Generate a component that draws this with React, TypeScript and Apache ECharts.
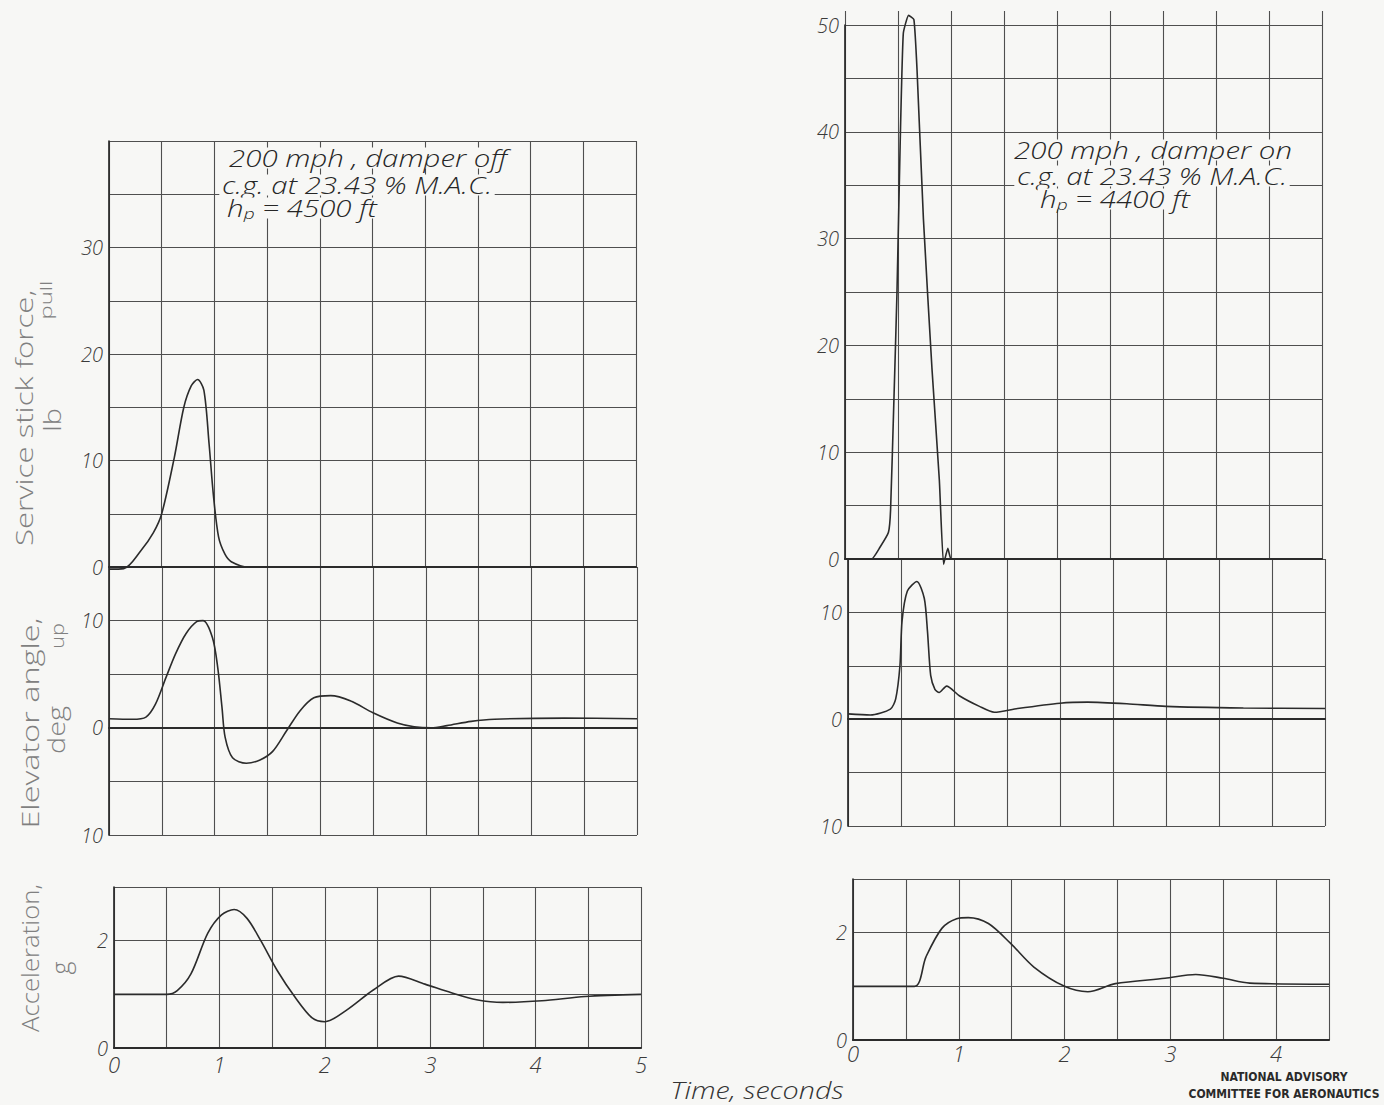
import React, { useEffect, useRef } from "react";
import * as echarts from "echarts";

// ---------- data ----------
// Left (damper off) : service stick force, lb
const lStickT = [0, 0.14, 0.3, 0.42, 0.5, 0.62, 0.71, 0.78, 0.84, 0.9, 0.95, 0.99, 1.04, 1.1, 1.16, 1.32, 1.5];
const lStickF = [-0.2, -0.15, 1.5, 3.2, 5.0, 10.3, 15.0, 17.0, 17.6, 16.6, 11.5, 6.8, 2.8, 1.2, 0.5, 0.0, 0.0];
// Left : elevator angle, deg
const lElevT = [0, 0.22, 0.35, 0.44, 0.54, 0.63, 0.73, 0.83, 0.89, 0.98, 1.03, 1.07, 1.1, 1.17, 1.3, 1.43, 1.55, 1.68, 1.81, 1.94, 2.1, 2.29, 2.5, 2.73, 2.89, 3.05, 3.2, 3.43, 3.65, 4.31, 5.0];
const lElevA = [0.85, 0.8, 1.0, 2.2, 4.7, 6.9, 8.8, 9.9, 10.0, 8.4, 5.6, 1.9, -0.9, -2.8, -3.3, -3.0, -2.2, -0.3, 1.6, 2.8, 3.0, 2.5, 1.4, 0.45, 0.1, 0.0, 0.2, 0.6, 0.8, 0.9, 0.85];
// Left : normal acceleration, g
const lAccT = [0, 0.5, 0.6, 0.73, 0.89, 1.02, 1.14, 1.26, 1.39, 1.55, 1.72, 1.88, 2.0, 2.21, 2.46, 2.7, 2.95, 3.2, 3.44, 3.69, 4.06, 4.47, 5.0];
const lAccG = [1.0, 1.0, 1.07, 1.38, 2.14, 2.48, 2.58, 2.42, 2.01, 1.44, 0.94, 0.56, 0.49, 0.71, 1.08, 1.34, 1.19, 1.03, 0.9, 0.85, 0.88, 0.96, 1.0];

// Right (damper on) : service stick force, lb
const rStickT = [0, 0.25, 0.33, 0.41, 0.43, 0.46, 0.49, 0.52, 0.55, 0.6, 0.65, 0.68, 0.74, 0.82, 0.89, 0.93, 0.97, 1.0, 1.06];
const rStickF = [0, 0, 1.1, 2.5, 4.6, 14.4, 24.8, 38.7, 49.2, 50.9, 50.5, 45.7, 31.8, 17.9, 7.4, -0.5, 1.0, 0, 0];
// Right : elevator angle, deg
const rElevT = [0, 0.21, 0.4, 0.45, 0.49, 0.51, 0.56, 0.65, 0.72, 0.75, 0.78, 0.82, 0.86, 0.93, 1.05, 1.24, 1.38, 1.6, 2.0, 2.26, 2.63, 3.0, 3.73, 4.5];
const rElevA = [0.5, 0.4, 0.95, 1.9, 5.0, 9.2, 12.0, 12.9, 11.3, 8.2, 4.1, 2.8, 2.5, 3.1, 2.2, 1.2, 0.65, 1.0, 1.5, 1.6, 1.45, 1.2, 1.05, 1.0];
// Right : normal acceleration, g
const rAccT = [0, 0.58, 0.69, 0.84, 0.98, 1.09, 1.28, 1.49, 1.71, 2.0, 2.22, 2.48, 2.95, 3.24, 3.5, 3.75, 4.5];
const rAccG = [1.0, 1.0, 1.55, 2.08, 2.26, 2.28, 2.17, 1.8, 1.36, 1.0, 0.9, 1.05, 1.15, 1.22, 1.15, 1.06, 1.04];

const timeMaxLeft = 5;
const timeMaxRight = 4.5;

// ---------- styles ----------
const BG = "#f7f7f5";
const INK = "#2b2b2b";
const GRIDC = "#4f4f4f";
const HAND = '"Open Sans", "DejaVu Sans", sans-serif';

const zip = (a: number[], b: number[]) => a.map((v, i) => [v, b[i]]);

const tickFont = {
  fontFamily: HAND,
  fontStyle: "italic" as const,
  fontWeight: 300 as any,
  fontSize: 20,
  color: "#3a3a3a",
};

function xAxisFor(grid: number, max: number, labels: boolean, axisLine: boolean, margin = 4) {
  return {
    type: "value",
    gridIndex: grid,
    min: 0,
    max,
    interval: 0.5,
    axisLine: { show: axisLine, onZero: true, lineStyle: { color: INK, width: 2.2 } },
    axisTick: { show: false },
    axisLabel: labels
      ? {
          show: true,
          margin,
          formatter: (v: number) => (Math.abs(v - Math.round(v)) < 1e-6 ? String(Math.round(v)) : ""),
          ...tickFont,
          fontSize: 22,
        }
      : { show: false },
    splitLine: { show: true, lineStyle: { color: GRIDC, width: 1.1 } },
  };
}

function yAxisFor(grid: number, min: number, max: number, interval: number, fmt: (v: number) => string) {
  return {
    type: "value",
    gridIndex: grid,
    min,
    max,
    interval,
    axisLine: { show: true, lineStyle: { color: INK, width: 1.7 } },
    axisTick: { show: false },
    axisLabel: { show: true, margin: 6, formatter: fmt, ...tickFont },
    splitLine: { show: true, lineStyle: { color: GRIDC, width: 1.1 } },
  };
}

function curve(xi: number, t: number[], v: number[], smooth = 0.3) {
  return {
    type: "line",
    xAxisIndex: xi,
    yAxisIndex: xi,
    data: zip(t, v),
    showSymbol: false,
    smooth,
    clip: false,
    lineStyle: { color: INK, width: 1.6 },
    silent: true,
  };
}

function vText(x: number, y: number, text: string, size: number, scaleX = 1, color = "#808080") {
  return {
    type: "text",
    x,
    y,
    rotation: Math.PI / 2,
    scaleX,
    style: {
      text,
      fill: color,
      fontFamily: HAND,
      fontSize: size,
      fontWeight: 300,
      textAlign: "center",
      textVerticalAlign: "middle",
      align: "center",
      verticalAlign: "middle",
    },
  };
}

function note(x: number, y: number, text: string, rich?: any) {
  return {
    type: "text",
    x,
    y,
    scaleX: 1.28,
    z: 50,
    style: {
      text,
      fill: "#262626",
      fontFamily: HAND,
      fontStyle: "italic",
      fontWeight: 300,
      fontSize: 23,
      lineHeight: 21,
      textAlign: "center",
      textVerticalAlign: "middle",
      align: "center",
      verticalAlign: "middle",
      backgroundColor: BG,
      padding: [0, 2, 0, 2],
      rich,
    },
  };
}

const hpRich = {
  n: { fontFamily: HAND, fontStyle: "italic", fontWeight: 300, fontSize: 23, lineHeight: 21, fill: "#262626", color: "#262626" },
  s: { fontFamily: HAND, fontStyle: "italic", fontWeight: 300, fontSize: 15, lineHeight: 21, fill: "#262626", color: "#262626", padding: [10, 0, 0, 0] },
};

export default function App() {
  const ref = useRef<HTMLDivElement>(null);

  useEffect(() => {
    document.body.style.margin = "0";
    document.body.style.background = BG;
    if (!ref.current) return;
    const chart = echarts.init(ref.current, undefined, { renderer: "svg" });

    const stickFmtL = (v: number) => (v % 10 === 0 && v < 40 ? String(v) : "");
    const stickFmtR = (v: number) => (v % 10 === 0 ? String(v) : "");
    const elevFmt = (v: number) => (v % 10 === 0 ? String(Math.abs(v)) : "");
    const accFmt = (v: number) => (v === 0 || v === 2 ? String(v) : "");

    const naca = (y: number, text: string) => ({
      type: "text",
      x: 1284,
      y,
      style: {
        text,
        fill: "#2a2a2a",
        fontFamily: '"Liberation Sans Narrow", "DejaVu Sans Condensed", sans-serif',
        fontWeight: "bold",
        fontSize: 12,
        textAlign: "center",
        textVerticalAlign: "middle",
        align: "center",
        verticalAlign: "middle",
      },
    });

    const option: any = {
      animation: false,
      backgroundColor: BG,
      grid: [
        { left: 109, top: 141, width: 527, height: 426 }, // 0 left stick
        { left: 109, top: 567, width: 528, height: 268 }, // 1 left elevator
        { left: 114, top: 887, width: 527, height: 161 }, // 2 left accel
        { left: 845, top: 11, width: 477, height: 14 }, // 3 right top stubs
        { left: 845, top: 25, width: 477, height: 534 }, // 4 right stick
        { left: 848, top: 559, width: 477, height: 267 }, // 5 right elevator
        { left: 853, top: 879, width: 476, height: 161 }, // 6 right accel
      ],
      xAxis: [
        xAxisFor(0, timeMaxLeft, false, true),
        xAxisFor(1, timeMaxLeft, false, true),
        xAxisFor(2, timeMaxLeft, true, true, 5),
        xAxisFor(3, timeMaxRight, false, false),
        xAxisFor(4, timeMaxRight, false, true),
        xAxisFor(5, timeMaxRight, false, true),
        xAxisFor(6, timeMaxRight, true, true, 2),
      ],
      yAxis: [
        yAxisFor(0, 0, 40, 5, stickFmtL),
        yAxisFor(1, -10, 15, 5, elevFmt),
        yAxisFor(2, 0, 3, 1, accFmt),
        { type: "value", gridIndex: 3, min: 0, max: 1, show: false },
        yAxisFor(4, 0, 50, 5, stickFmtR),
        yAxisFor(5, -10, 15, 5, elevFmt),
        yAxisFor(6, 0, 3, 1, accFmt),
      ],
      series: [
        curve(0, lStickT, lStickF),
        curve(1, lElevT, lElevA),
        curve(2, lAccT, lAccG),
        curve(4, rStickT, rStickF, 0.15),
        curve(5, rElevT, rElevA, 0.25),
        curve(6, rAccT, rAccG),
      ],
      graphic: [
        // axis titles
        vText(24, 418, "Service stick force,", 24, 1.3),
        vText(45, 300, "pull", 17, 1.4),
        vText(52, 420, "lb", 24, 1.2),
        vText(30, 723, "Elevator angle,", 24, 1.35),
        vText(57, 636, "up", 18, 1.2),
        vText(56, 730, "deg", 24, 1.2),
        vText(30, 958, "Acceleration,", 23, 1.12),
        vText(60, 968, "g", 25),
        // annotations, left
        note(368, 158, "200 mph , damper off"),
        note(357, 185, "c.g. at 23.43 % M.A.C."),
        note(302, 208, "{n|h}{s|p}{n| = 4500 ft}", hpRich),
        // annotations, right
        note(1153, 150, "200 mph , damper on"),
        note(1152, 176, "c.g. at 23.43 % M.A.C."),
        note(1115, 199, "{n|h}{s|p}{n| = 4400 ft}", hpRich),
        // x title
        {
          type: "text",
          x: 757,
          y: 1090,
          scaleX: 1.25,
          style: {
            text: "Time, seconds",
            fill: "#333",
            fontFamily: HAND,
            fontStyle: "italic",
            fontWeight: 300,
            fontSize: 23,
            textAlign: "center",
            textVerticalAlign: "middle",
            align: "center",
            verticalAlign: "middle",
          },
        },
        naca(1077, "NATIONAL ADVISORY"),
        naca(1094, "COMMITTEE FOR AERONAUTICS"),
      ],
    };

    chart.setOption(option);
    return () => chart.dispose();
  }, []);

  return <div ref={ref} style={{ width: 1384, height: 1105, background: BG }} />;
}
